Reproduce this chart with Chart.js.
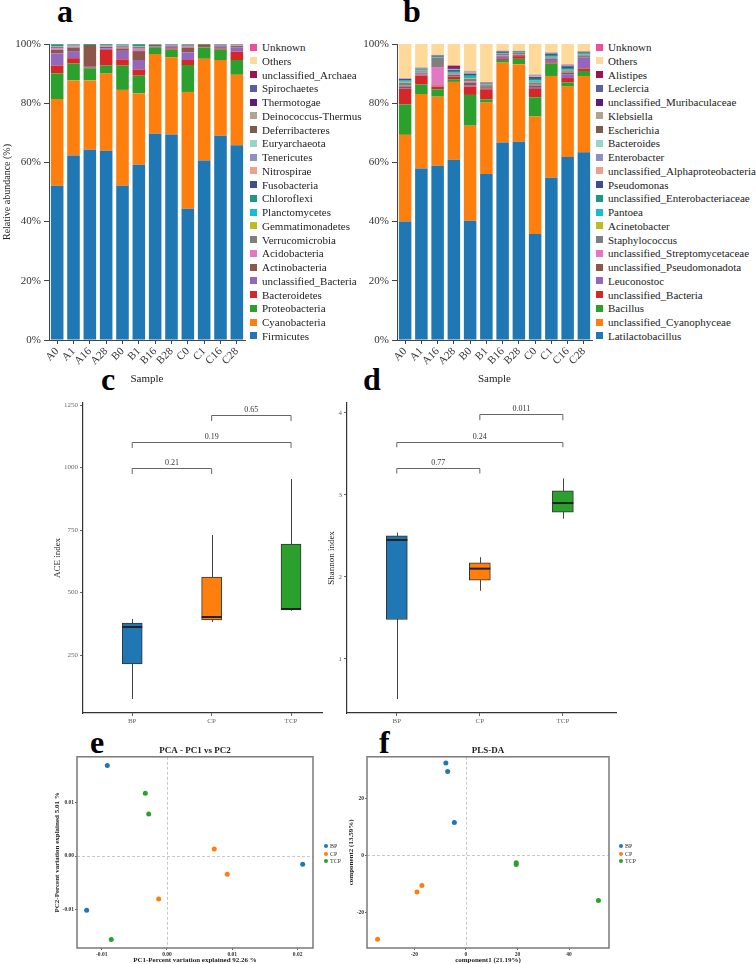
<!DOCTYPE html>
<html>
<head>
<meta charset="utf-8">
<script src="https://cdn.jsdelivr.net/npm/chart.js@4.4.0/dist/chart.umd.min.js"></script>
<style>
  body { margin: 0; background: #fff; width: 756px; height: 964px; position: relative; overflow: hidden; font-family: 'Liberation Serif', serif; }
  canvas { position: absolute; }
  .tag { position: absolute; font-family: 'Liberation Serif', serif; font-weight: bold; font-size: 32px; line-height: 32px; color: #000; }
  .leg { position: absolute; font-family: 'Liberation Serif', serif; font-size: 11px; line-height: 14px; color: #222; white-space: nowrap; padding-left: 12px; }
  .leg i { position: absolute; left: 0; top: 3.5px; width: 7px; height: 7px; }
  .sleg { position: absolute; font-family: 'Liberation Serif', serif; font-size: 6px; line-height: 8px; color: #333; white-space: nowrap; padding-left: 6px; }
  .sleg i { position: absolute; left: 0; top: 2px; width: 4px; height: 4px; border-radius: 50%; }
</style>
</head>
<body>
<div class="tag" style="left:57px;top:-5px">a</div>
<div class="tag" style="left:403px;top:-5px">b</div>
<div class="tag" style="left:101px;top:363px">c</div>
<div class="tag" style="left:363px;top:363px">d</div>
<div class="tag" style="left:90px;top:726px">e</div>
<div class="tag" style="left:379px;top:726px">f</div>

<canvas id="a" width="250" height="395" style="left:0;top:0"></canvas>
<canvas id="b" width="246" height="395" style="left:350px;top:0"></canvas>
<canvas id="c" width="275" height="330" style="left:50px;top:395px"></canvas>
<canvas id="d" width="300" height="330" style="left:320px;top:395px"></canvas>
<canvas id="e" width="280" height="223" style="left:40px;top:741px"></canvas>
<canvas id="f" width="285" height="223" style="left:330px;top:741px"></canvas>

<script>
const samples = ['A0', 'A1', 'A16', 'A28', 'B0', 'B1', 'B16', 'B28', 'C0', 'C1', 'C16', 'C28']

// colours, bottom of the stack first
const stackColors = ['#1f77b4', '#ff7f0e', '#2ca02c', '#d62728', '#9467bd', '#8c564b', '#e377c2', '#7f7f7f',
  '#bcbd22', '#17becf', '#1a9a80', '#3b4f8c', '#f0a08a', '#8d90c0', '#98d5c8', '#7d5a4a', '#b3a28f',
  '#5e1a78', '#5b5ea6', '#a0124e', '#ffd99a', '#ee4f9b']

// panel a, phylum level (%)
const phyla = ['Firmicutes', 'Cyanobacteria', 'Proteobacteria', 'Bacteroidetes', 'unclassified_Bacteria',
  'Actinobacteria', 'Acidobacteria', 'Verrucomicrobia', 'Gemmatimonadetes', 'Planctomycetes', 'Chloroflexi',
  'Fusobacteria', 'Nitrospirae', 'Tenericutes', 'Euryarchaeota', 'Deferribacteres', 'Deinococcus-Thermus',
  'Thermotogae', 'Spirochaetes', 'unclassified_Archaea', 'Others', 'Unknown']
const firmicutes = [52.1, 62.3, 64.3, 63.9, 52.1, 59.2, 69.7, 69.4, 44.3, 60.6, 69.0, 65.8]
const cyanobacteria = [29.3, 25.4, 23.4, 26.1, 32.4, 24.1, 26.9, 26.1, 39.5, 34.4, 25.6, 23.8]
const proteobacteria = [8.7, 5.7, 4.1, 2.7, 8.2, 6.0, 2.3, 2.6, 9.1, 3.8, 3.5, 5.0]
const bacteroidetes = [2.6, 1.8, 0.2, 5.3, 2.1, 2.1, 0.1, 0.4, 1.7, 0.1, 0.4, 2.8]
const unclBacteriaA = [4.1, 2.4, 0.3, 0.5, 2.9, 3.2, 0.2, 0.6, 2.6, 0.1, 0.6, 1.4]
const actinobacteria = [1.2, 1.2, 7.4, 0.5, 0.8, 3.0, 0.5, 0.3, 1.6, 0.9, 0.4, 0.5]
const acidobacteria = [0.6, 0.4, 0.0, 0.2, 0.5, 0.8, 0.0, 0.1, 0.5, 0.0, 0.1, 0.2]
const verrucomicrobia = [0.5, 0.3, 0.0, 0.3, 0.3, 0.6, 0.1, 0.2, 0.3, 0.0, 0.1, 0.2]
const gemmatimonadetes = [0.1, 0.0, 0.0, 0.0, 0.1, 0.1, 0.0, 0.0, 0.1, 0.0, 0.0, 0.0]
const planctomycetes = [0.1, 0.1, 0.0, 0.1, 0.1, 0.1, 0.0, 0.0, 0.0, 0.0, 0.0, 0.0]
const chloroflexi = [0.4, 0.2, 0.3, 0.2, 0.3, 0.5, 0.1, 0.1, 0.2, 0.1, 0.1, 0.1]
const fusobacteria = [0.2, 0.1, 0.0, 0.2, 0.1, 0.2, 0.1, 0.1, 0.1, 0.0, 0.1, 0.1]
const nitrospirae = [0.1, 0.1, 0.0, 0.0, 0.1, 0.1, 0.0, 0.0, 0.0, 0.0, 0.0, 0.1]
const tenericutes = [0.0, 0.0, 0.0, 0.0, 0.0, 0.0, 0.0, 0.1, 0.0, 0.0, 0.1, 0.0]
const euryarchaeota = [0, 0, 0, 0, 0, 0, 0, 0, 0, 0, 0, 0]
const deferribacteres = [0, 0, 0, 0, 0, 0, 0, 0, 0, 0, 0, 0]
const deinococcus = [0, 0, 0, 0, 0, 0, 0, 0, 0, 0, 0, 0]
const thermotogae = [0, 0, 0, 0, 0, 0, 0, 0, 0, 0, 0, 0]
const spirochaetes = [0, 0, 0, 0, 0, 0, 0, 0, 0, 0, 0, 0]
const unclArchaea = [0, 0, 0, 0, 0, 0, 0, 0, 0, 0, 0, 0]
const othersA = [0, 0, 0, 0, 0, 0, 0, 0, 0, 0, 0, 0]
const unknownA = [0, 0, 0, 0, 0, 0, 0, 0, 0, 0, 0, 0]
const phylumSeries = [firmicutes, cyanobacteria, proteobacteria, bacteroidetes, unclBacteriaA, actinobacteria,
  acidobacteria, verrucomicrobia, gemmatimonadetes, planctomycetes, chloroflexi, fusobacteria, nitrospirae,
  tenericutes, euryarchaeota, deferribacteres, deinococcus, thermotogae, spirochaetes, unclArchaea, othersA, unknownA]

// panel b, genus level (%)
const genera = ['Latilactobacillus', 'unclassified_Cyanophyceae', 'Bacillus', 'unclassified_Bacteria', 'Leuconostoc',
  'unclassified_Pseudomonadota', 'unclassified_Streptomycetaceae', 'Staphylococcus', 'Acinetobacter', 'Pantoea',
  'unclassified_Enterobacteriaceae', 'Pseudomonas', 'unclassified_Alphaproteobacteria', 'Enterobacter',
  'Bacteroides', 'Escherichia', 'Klebsiella', 'unclassified_Muribaculaceae', 'Leclercia', 'Alistipes', 'Others', 'Unknown']
const latilactobacillus = [40.0, 57.9, 58.9, 60.9, 40.3, 56.1, 66.7, 67.0, 35.8, 54.8, 61.8, 63.4]
const cyanophyceae = [29.3, 25.2, 23.3, 26.3, 32.1, 24.1, 27.0, 26.2, 39.7, 34.4, 23.8, 25.8]
const bacillus = [10.3, 3.2, 2.5, 0.9, 10.4, 1.1, 0.9, 1.8, 6.5, 4.2, 1.4, 1.7]
const unclBacteriaB = [5.2, 3.0, 0.9, 0.9, 2.8, 3.4, 0.3, 0.9, 2.8, 0.4, 1.5, 0.8]
const leuconostoc = [0.3, 0.4, 0.1, 0.2, 0.5, 0.2, 0.8, 0.1, 0.4, 0.8, 1.3, 3.6]
const pseudomonadota = [0.6, 0.4, 0.3, 0.4, 0.9, 0.5, 0.3, 0.4, 0.8, 0.3, 0.6, 0.2]
const streptomycetaceae = [0.2, 0.2, 6.2, 0.1, 0.3, 0.1, 0.1, 0.1, 0.2, 0.1, 0.2, 0.1]
const staphylococcus = [1.0, 0.5, 3.2, 0.4, 1.0, 0.6, 0.6, 0.7, 0.8, 0.5, 0.5, 0.6]
const acinetobacter = [0.1, 0.1, 0.0, 0.1, 0.2, 0.1, 0.0, 0.0, 0.2, 0.1, 0.1, 0.1]
const pantoea = [0.3, 0.2, 0.1, 0.3, 0.4, 0.1, 0.1, 0.1, 0.5, 0.3, 0.3, 0.2]
const enterobacteriaceae = [0.4, 0.3, 0.2, 0.4, 0.6, 0.2, 0.2, 0.1, 0.5, 0.4, 0.4, 0.3]
const pseudomonas = [0.5, 0.3, 0.4, 0.4, 0.5, 0.2, 0.5, 0.2, 0.7, 0.5, 0.6, 0.4]
const alphaproteobacteria = [0.1, 0.1, 0.0, 0.1, 0.3, 0.1, 0.0, 0.0, 0.2, 0.1, 0.1, 0.0]
const enterobacter = [0.2, 0.1, 0.1, 0.1, 0.3, 0.1, 0.1, 0.1, 0.3, 0.1, 0.1, 0.1]
const bacteroides = [0.0, 0.0, 0.0, 0.0, 0.1, 0.0, 0.0, 0.0, 0.0, 0.0, 0.0, 0.0]
const escherichia = [0.0, 0.1, 0.1, 0.1, 0.2, 0.2, 0.1, 0.0, 0.2, 0.0, 0.1, 0.1]
const klebsiella = [0, 0, 0, 0, 0, 0, 0, 0, 0, 0, 0, 0]
const muribaculaceae = [0.0, 0.0, 0.0, 0.6, 0.0, 0.0, 0.0, 0.0, 0.0, 0.0, 0.2, 0.0]
const leclercia = [0.0, 0.0, 0.0, 0.0, 0.0, 0.0, 0.0, 0.0, 0.0, 0.1, 0.0, 0.1]
const alistipes = [0.0, 0.0, 0.0, 0.5, 0.0, 0.0, 0.0, 0.0, 0.0, 0.0, 0.0, 0.0]
const othersB = [11.5, 8.0, 3.7, 7.3, 9.1, 12.9, 2.3, 2.3, 10.4, 2.9, 7.0, 2.6]
const unknownB = [0, 0, 0, 0, 0, 0, 0, 0, 0, 0, 0, 0]
const genusSeries = [latilactobacillus, cyanophyceae, bacillus, unclBacteriaB, leuconostoc, pseudomonadota,
  streptomycetaceae, staphylococcus, acinetobacter, pantoea, enterobacteriaceae, pseudomonas, alphaproteobacteria,
  enterobacter, bacteroides, escherichia, klebsiella, muribaculaceae, leclercia, alistipes, othersB, unknownB]

// panels c and d, box plots
const groups = ['BP', 'CP', 'TCP']
const groupColors = ['#1f77b4', '#ff7f0e', '#2ca02c']
const aceMin = [74, 382, 427]
const aceQ1 = [214, 390, 430]
const aceMedian = [362, 402, 434]
const aceQ3 = [378, 562, 694]
const aceMax = [394, 730, 954]
const aceTests = [[1, 2, '0.21', 998], [1, 3, '0.19', 1102], [2, 3, '0.65', 1210]]
const shannonMin = [0.51, 1.83, 2.71]
const shannonQ1 = [1.48, 1.96, 2.79]
const shannonMedian = [2.45, 2.10, 2.90]
const shannonQ3 = [2.50, 2.17, 3.05]
const shannonMax = [2.54, 2.24, 3.20]
const shannonTests = [[1, 2, '0.77', 3.33], [1, 3, '0.24', 3.65], [2, 3, '0.011', 3.98]]

// panels e and f, ordination scores
const pcaBP = [[-0.00914, 0.01682], [-0.0123, -0.0101], [0.02078, -0.00155]]
const pcaCP = [[0.00724, 0.0013], [0.00923, -0.0034], [-0.00127, -0.0080]]
const pcaTCP = [[-0.00332, 0.01168], [-0.0028, 0.00782], [-0.00853, -0.0155]]
const plsBP = [[-7.8, 32.5], [-7.1, 29.5], [-4.5, 11.6]]
const plsCP = [[-17.1, -10.6], [-19.0, -12.9], [-34.3, -29.5]]
const plsTCP = [[19.5, -2.6], [19.5, -3.2], [51.4, -15.9]]

const serif = "'Liberation Serif', serif"
Chart.defaults.font.family = serif
Chart.defaults.color = '#333'
Chart.defaults.animation = false
Chart.defaults.responsive = false
Chart.defaults.plugins.legend.display = false
Chart.defaults.plugins.tooltip.enabled = false

function htmlLegend (names, cols, left, top0, step) {
  names.forEach((n, i) => {
    const d = document.createElement('div')
    d.className = 'leg'
    d.style.left = left + 'px'
    d.style.top = (top0 + i * step - 7) + 'px'
    d.innerHTML = `<i style="background:${cols[i]}"></i>${n}`
    document.body.appendChild(d)
  })
}

function stackChart (id, names, series, yTitle, yWidth, padRight) {
  return new Chart(id, {
    type: 'bar',
    data: {
      labels: samples,
      datasets: names.map((n, i) => ({
        label: n,
        data: series[i],
        backgroundColor: stackColors[i],
        borderWidth: 0,
        barPercentage: 0.77,
        categoryPercentage: 1
      }))
    },
    options: {
      layout: { padding: { top: 44, right: padRight } },
      scales: {
        x: {
          stacked: true,
          grid: { offset: false, drawOnChartArea: false, tickLength: 4, color: '#444' },
          border: { color: '#444', width: 1 },
          ticks: { autoSkip: false, maxRotation: 45, minRotation: 45, padding: 1, font: { size: 11 }, color: '#333' },
          title: { display: true, text: 'Sample', font: { size: 11 }, color: '#222', padding: { top: 0, bottom: 9 } },
          afterFit: s => { s.height = 55 }
        },
        y: {
          stacked: true,
          min: 0,
          max: 100,
          ticks: { stepSize: 20, callback: v => v + '%', font: { size: 11 }, padding: 3, color: '#333' },
          grid: { drawOnChartArea: false, tickLength: 5, color: '#444' },
          border: { color: '#444', width: 1 },
          title: { display: !!yTitle, text: yTitle, font: { size: 10 }, color: '#222', padding: { top: 1, bottom: 0 } },
          afterFit: s => { s.width = yWidth }
        }
      }
    }
  })
}

stackChart('a', phyla, phylumSeries, 'Relative abundance (%)', 49, 5)
stackChart('b', genera, genusSeries, '', 47, 4)
htmlLegend(phyla.slice().reverse(), stackColors.slice().reverse(), 250, 47, 13.75)
htmlLegend(genera.slice().reverse(), stackColors.slice().reverse(), 596, 47, 13.75)

// whiskers, medians and significance brackets for the box plots
const boxExtras = {
  id: 'boxExtras',
  beforeDatasetsDraw (chart, args, o) {
    const { ctx, scales: { x, y } } = chart
    ctx.save()
    ctx.strokeStyle = '#444'
    ctx.lineWidth = 1
    o.lo.forEach((v, i) => {
      const cx = Math.round(x.getPixelForValue(i + 1)) + 0.5
      ctx.beginPath()
      ctx.moveTo(cx, y.getPixelForValue(v))
      ctx.lineTo(cx, y.getPixelForValue(o.hi[i]))
      ctx.stroke()
    })
    ctx.restore()
  },
  afterDatasetsDraw (chart, args, o) {
    const { ctx, scales: { x, y } } = chart
    const bars = chart.getDatasetMeta(0).data
    ctx.save()
    ctx.strokeStyle = '#222'
    ctx.lineWidth = 2
    o.med.forEach((v, i) => {
      const b = bars[i]
      const py = y.getPixelForValue(v)
      ctx.beginPath()
      ctx.moveTo(b.x - b.width / 2, py)
      ctx.lineTo(b.x + b.width / 2, py)
      ctx.stroke()
    })
    ctx.strokeStyle = '#666'
    ctx.lineWidth = 1
    ctx.fillStyle = '#333'
    ctx.font = '8px ' + serif
    ctx.textAlign = 'center'
    ctx.textBaseline = 'bottom'
    o.tests.forEach(([g1, g2, label, level]) => {
      const x1 = x.getPixelForValue(g1)
      const x2 = x.getPixelForValue(g2)
      const yt = Math.round(y.getPixelForValue(level)) + 0.5
      const yb = y.getPixelForValue(level - o.drop)
      ctx.beginPath()
      ctx.moveTo(x1, yb)
      ctx.lineTo(x1, yt)
      ctx.lineTo(x2, yt)
      ctx.lineTo(x2, yb)
      ctx.stroke()
      ctx.fillText(label, (x1 + x2) / 2, yt - 2)
    })
    ctx.restore()
  }
}

function boxChart (id, q1, q3, extras, xr, yr, yTicks, yTitle, yWidth, titlePad, padRight, thick) {
  return new Chart(id, {
    type: 'bar',
    data: {
      datasets: [{
        data: groups.map((g, i) => ({ x: i + 1, y: [q1[i], q3[i]] })),
        backgroundColor: groupColors,
        borderColor: '#333',
        borderWidth: 1,
        borderSkipped: false,
        barThickness: thick
      }]
    },
    options: {
      layout: { padding: { top: 8, right: padRight } },
      scales: {
        x: {
          type: 'linear',
          min: xr[0],
          max: xr[1],
          offset: false,
          afterBuildTicks: s => { s.ticks = [1, 2, 3].map(v => ({ value: v })) },
          ticks: { callback: v => groups[v - 1], font: { size: 7 }, color: '#666', padding: 1 },
          grid: { offset: false, drawOnChartArea: false, tickLength: 3, color: '#666' },
          border: { color: '#333', width: 1.2 },
          afterFit: s => { s.height = 12 }
        },
        y: {
          min: yr[0],
          max: yr[1],
          afterBuildTicks: s => { s.ticks = yTicks.map(v => ({ value: v })) },
          ticks: { font: { size: 7 }, color: '#666', padding: 2, callback: v => String(v) },
          grid: { drawOnChartArea: false, tickLength: 3, color: '#666' },
          border: { color: '#333', width: 1.2 },
          title: { display: true, text: yTitle, font: { size: 9 }, color: '#222', padding: { top: titlePad, bottom: 0 } },
          afterFit: s => { s.width = yWidth }
        }
      },
      plugins: { boxExtras: extras }
    },
    plugins: [boxExtras]
  })
}

boxChart('c', aceQ1, aceQ3, { lo: aceMin, hi: aceMax, med: aceMedian, tests: aceTests, drop: 24 },
  [0.38, 3.39], [18, 1258], [250, 500, 750, 1000, 1250], 'ACE index', 33, 2, 3, 20)
boxChart('d', shannonQ1, shannonQ3, { lo: shannonMin, hi: shannonMax, med: shannonMedian, tests: shannonTests, drop: 0.07 },
  [0.4, 3.64], [0.34, 4.12], [1, 2, 3, 4], 'Shannon index', 27, 6, 4, 21)

// frame and dashed zero lines for the ordination plots
const frame = {
  id: 'frame',
  beforeDatasetsDraw (chart) {
    const { ctx, chartArea: a, scales: { x, y } } = chart
    ctx.save()
    ctx.strokeStyle = '#c8c8c8'
    ctx.lineWidth = 1
    ctx.setLineDash([3, 2])
    const zx = Math.round(x.getPixelForValue(0)) + 0.5
    const zy = Math.round(y.getPixelForValue(0)) + 0.5
    ctx.beginPath()
    ctx.moveTo(zx, a.top)
    ctx.lineTo(zx, a.bottom)
    ctx.moveTo(a.left, zy)
    ctx.lineTo(a.right, zy)
    ctx.stroke()
    ctx.setLineDash([])
    ctx.strokeStyle = '#7a7a7a'
    ctx.lineWidth = 1.5
    ctx.strokeRect(a.left, a.top, a.right - a.left, a.bottom - a.top)
    ctx.restore()
  }
}

function scatterChart (id, sets, title, xTitle, yTitle, xr, yr, xTicks, yTicks, fmt, yTitlePad, padRight) {
  const tickOpts = { font: { size: 5.5, weight: 'bold' }, color: '#333', padding: 1, callback: fmt }
  return new Chart(id, {
    type: 'scatter',
    data: {
      datasets: sets.map((pts, i) => ({
        label: groups[i],
        data: pts.map(p => ({ x: p[0], y: p[1] })),
        backgroundColor: groupColors[i],
        borderWidth: 0,
        pointRadius: 2.5
      }))
    },
    options: {
      layout: { padding: { right: padRight } },
      plugins: {
        title: { display: true, text: title, fullSize: false, font: { size: 9, weight: 'bold' }, color: '#222', padding: { top: 4, bottom: 1 } }
      },
      scales: {
        x: {
          min: xr[0],
          max: xr[1],
          afterBuildTicks: s => { s.ticks = xTicks.map(v => ({ value: v })) },
          ticks: tickOpts,
          grid: { drawOnChartArea: false, tickLength: 2, color: '#666' },
          border: { display: false },
          title: { display: true, text: xTitle, font: { size: 7, weight: 'bold' }, color: '#222', padding: 0 },
          afterFit: s => { s.height = 16 }
        },
        y: {
          min: yr[0],
          max: yr[1],
          afterBuildTicks: s => { s.ticks = yTicks.map(v => ({ value: v })) },
          ticks: tickOpts,
          grid: { drawOnChartArea: false, tickLength: 2, color: '#666' },
          border: { display: false },
          title: { display: true, text: yTitle, font: { size: 7, weight: 'bold' }, color: '#222', padding: { top: yTitlePad, bottom: 0 } },
          afterFit: s => { s.width = 37 }
        }
      }
    },
    plugins: [frame]
  })
}

scatterChart('e', [pcaBP, pcaCP, pcaTCP], 'PCA - PC1 vs PC2', 'PC1-Percent variation explained 92.26 %',
  'PC2-Percent variation explained 5.01 %', [-0.01378, 0.02236], [-0.0171, 0.01844],
  [-0.01, 0, 0.01, 0.02], [-0.01, 0, 0.01], v => v.toFixed(2), 13, 7)
scatterChart('f', [plsBP, plsCP, plsTCP], 'PLS-DA', 'component1 (21.19%)', 'component2 (13.59%)',
  [-38.4, 55.5], [-32.6, 34.7], [-20, 0, 20, 40], [-20, 0, 20], v => String(v), 17, 6)

function dotLegend (left, top0) {
  groups.forEach((g, i) => {
    const d = document.createElement('div')
    d.className = 'sleg'
    d.style.left = left + 'px'
    d.style.top = (top0 + i * 7.5 - 4) + 'px'
    d.innerHTML = `<i style="background:${groupColors[i]}"></i>${g}`
    document.body.appendChild(d)
  })
}
dotLegend(324, 846)
dotLegend(619, 846)
</script>
</body>
</html>
